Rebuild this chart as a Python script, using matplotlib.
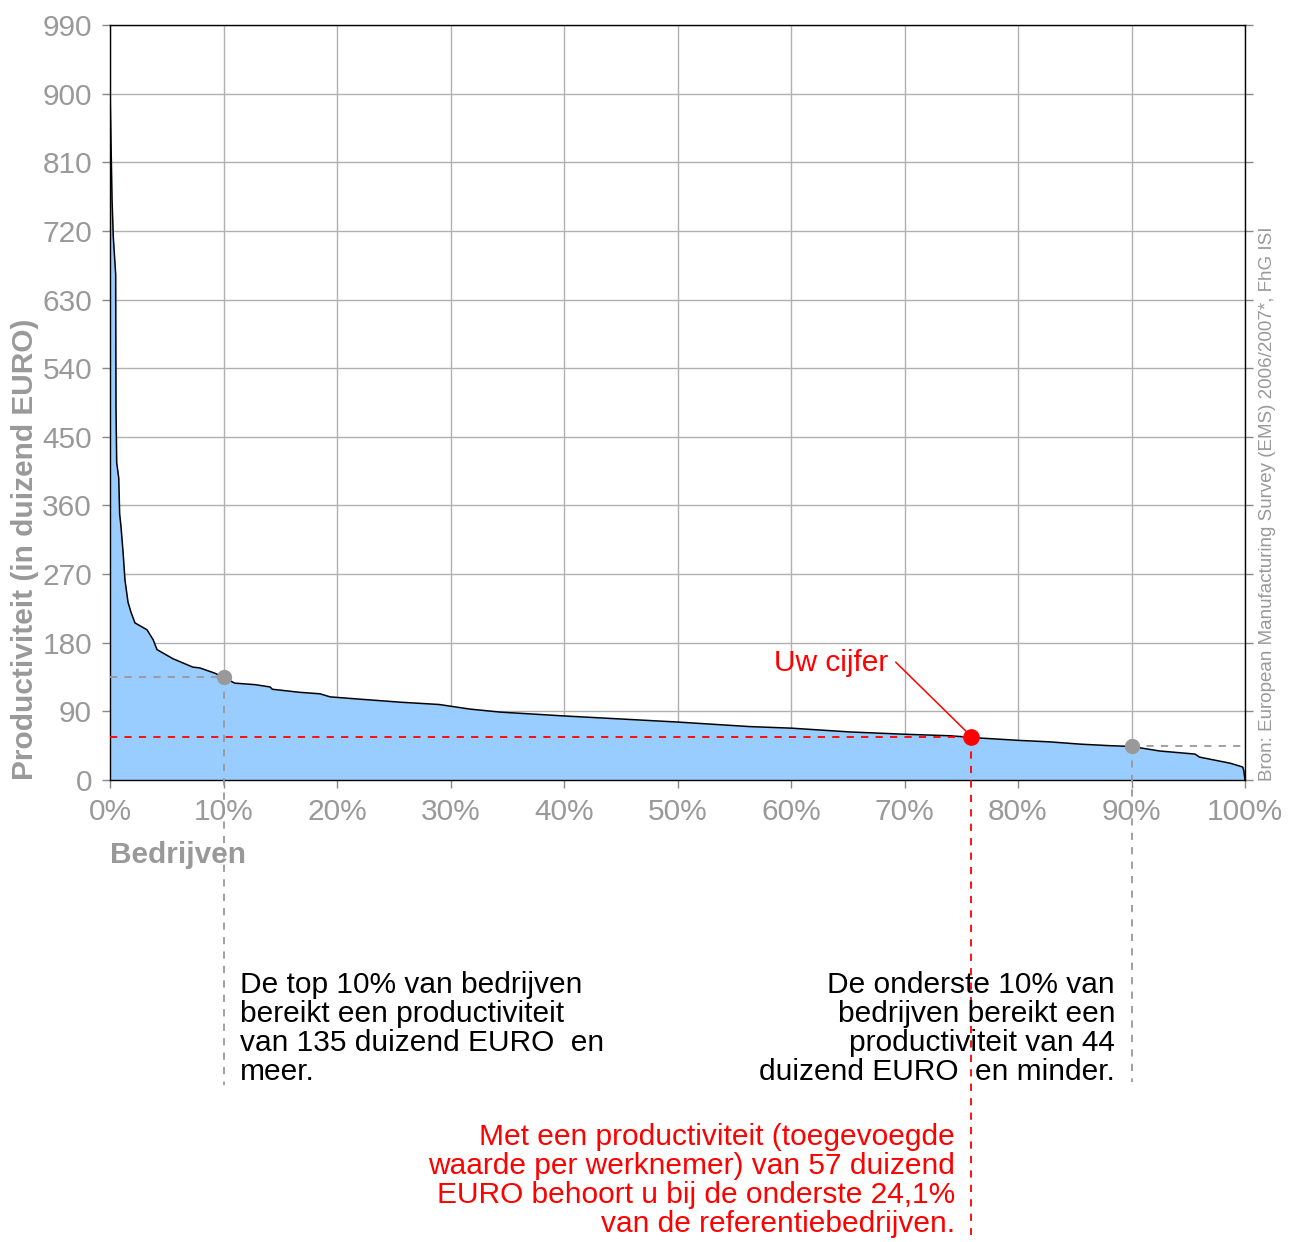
import matplotlib
matplotlib.use('Agg')
from matplotlib import pyplot as plt

# > data
# share of companies (%) and productivity (thousand EURO), sorted high -> low
company_share = [0, 0.18, 0.29, 0.5, 0.53, 0.59, 0.77, 0.85, 0.97, 1.15, 1.32, 1.59, 1.85,
                 2.2, 3.26, 3.8, 4.14, 5.55, 7.3, 7.9, 9.25, 11, 12.8, 14.1, 14.3, 16.7,
                 18.5, 19.4, 22, 25.6, 29, 31.7, 34.4, 40, 45, 50, 56.4, 60, 65.2, 70, 74,
                 76.7, 80, 82.8, 85.5, 88.1, 90, 92.5, 95.6, 96, 98.7, 99.8, 99.9, 100]
productivity = [908, 761, 712, 663, 487, 416, 396, 349, 332, 299, 262, 233, 220,
                206, 197, 184, 171, 159, 148, 147, 140, 127, 125, 122, 119, 115,
                113, 109, 106, 102, 99, 93, 89, 84, 80, 76, 70, 68, 63, 60, 58,
                55, 52, 50, 47, 45, 44, 38, 34, 30, 22, 17, 12, 0]

top10_share, top10_value = 10, 135
bottom10_share, bottom10_value = 90, 44
own_share, own_value = 75.9, 57

y_ticks = list(range(0, 991, 90))
x_ticks = list(range(0, 101, 10))
x_tick_labels = [str(t) + '%' for t in x_ticks]

text_top = 'De top 10% van bedrijven\nbereikt een productiviteit\nvan 135 duizend EURO  en\nmeer.'
text_bottom = 'De onderste 10% van\nbedrijven bereikt een\nproductiviteit van 44\nduizend EURO  en minder.'
text_own = ('Met een productiviteit (toegevoegde\nwaarde per werknemer) van 57 duizend\n'
            'EURO behoort u bij de onderste 24,1%\nvan de referentiebedrijven.')
source = 'Bron: European Manufacturing Survey (EMS) 2006/2007*, FhG ISI'

W, H = 1293, 1242
GREY = '#999999'
FS = 21.5
LS = 1.05

plt.rcParams['font.family'] = ['Liberation Sans', 'DejaVu Sans']


def fx(px):
    return px / W


def fy(py):
    return 1 - py / H


fig = plt.figure(figsize=(W / 100, H / 100), dpi=100)
ax = fig.add_axes([fx(110), fy(780), fx(1245) - fx(110), fy(25) - fy(780)])

# curve
ax.fill_between(company_share, productivity, 0, color='#99ccff', lw=0, zorder=2)
ax.plot(company_share, productivity, color='black', lw=1.1, zorder=3)

ax.set_xlim(0, 100)
ax.set_ylim(0, 990)
ax.set_xticks(x_ticks)
ax.set_xticklabels(x_tick_labels)
ax.set_yticks(y_ticks)
ax.grid(True, color='#b0b0b0', lw=1.0, zorder=0)
ax.set_axisbelow(True)
ax.tick_params(axis='both', direction='out', length=6, width=1, color='#888888',
               labelcolor=GREY, labelsize=FS, pad=7)
ax.tick_params(axis='y', right=True)
for s in ax.spines.values():
    s.set_color('black')
    s.set_linewidth(1)

xt = ax.get_xaxis_transform()

# top 10% marker
ax.plot([0, top10_share], [top10_value, top10_value], ls=(0, (4, 4)), color=GREY, lw=1.3, zorder=4)
ax.plot([top10_share, top10_share], [top10_value / 990, -0.404], transform=xt,
        ls=(0, (4, 4)), color=GREY, lw=1.3, clip_on=False, zorder=4)
ax.plot(top10_share, top10_value, 'o', color=GREY, ms=10, zorder=5)

# bottom 10% marker
ax.plot([bottom10_share, 100], [bottom10_value, bottom10_value], ls=(0, (4, 4)), color=GREY, lw=1.3, zorder=4)
ax.plot([bottom10_share, bottom10_share], [bottom10_value / 990, -0.40], transform=xt,
        ls=(0, (4, 4)), color=GREY, lw=1.3, clip_on=False, zorder=4)
ax.plot(bottom10_share, bottom10_value, 'o', color=GREY, ms=10, zorder=5)

# own figure
ax.plot([0, own_share], [own_value, own_value], ls=(0, (4, 4)), color='red', lw=1.3, zorder=4)
ax.plot([own_share, own_share], [own_value / 990, -0.603], transform=xt,
        ls=(0, (4, 4)), color='red', lw=1.3, clip_on=False, zorder=4)
ax.plot(own_share, own_value, 'o', color='red', ms=11, zorder=6)
ax.annotate('Uw cijfer', xy=(own_share, own_value), xytext=(888, H - 663),
            textcoords='figure pixels', ha='right', va='center', color='red', fontsize=FS,
            arrowprops=dict(arrowstyle='-', color='red', lw=1.1, shrinkA=2, shrinkB=4,
                            relpos=(1.05, 0.6)))

# axis labels and source
fig.text(fx(25), fy(780), 'Productiviteit (in duizend EURO)', rotation=90, ha='center', va='bottom',
         color=GREY, fontsize=FS, fontweight='bold')
fig.text(fx(110), fy(855), 'Bedrijven', ha='left', va='center', color=GREY, fontsize=FS,
         fontweight='bold')
fig.text(fx(1268), fy(781), source, rotation=90, ha='center', va='bottom', color=GREY, fontsize=13.5)

# explanatory texts
fig.text(fx(240), fy(971), text_top, ha='left', va='top', fontsize=FS, linespacing=LS)
fig.text(fx(1115), fy(971), text_bottom, ha='right', va='top', fontsize=FS, linespacing=LS,
         multialignment='right')
fig.text(fx(955), fy(1123), text_own, ha='right', va='top', fontsize=FS, linespacing=LS,
         color='red', multialignment='right')

fig.savefig('out.png', dpi=100)
